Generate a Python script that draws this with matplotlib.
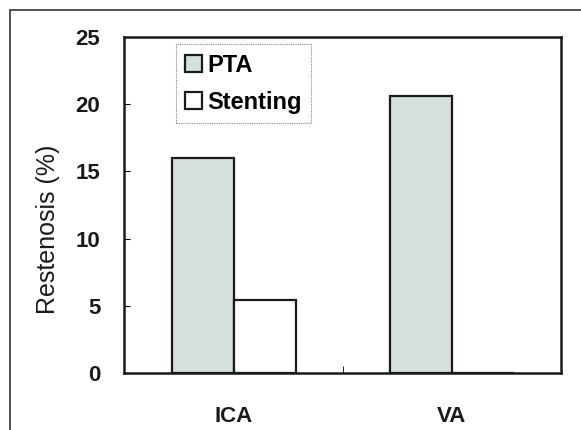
import matplotlib
matplotlib.use("Agg")
import matplotlib.pyplot as plt
import numpy as np
from matplotlib.patches import Rectangle

categories = ["ICA", "VA"]
pta = [16.0, 20.6]
stenting = [5.4, 0.0]
yticks = [0, 5, 10, 15, 20, 25]

plt.rcParams["font.family"] = ["Liberation Sans", "DejaVu Sans"]

fig = plt.figure(figsize=(5.81, 4.30), dpi=100)
W, H = 581, 430
ax = fig.add_axes([124 / W, 1 - 373 / H, (561 - 124) / W, (373 - 37) / H])

x = np.arange(len(categories))
w = 0.285
ax.bar(x - w / 2, pta, w, color="#d3e0dc", edgecolor="#1a1a1a", linewidth=1.6, label="PTA")
ax.bar(x + w / 2, stenting, w, color="white", edgecolor="#1a1a1a", linewidth=1.6, label="Stenting")

ax.set_xlim(-0.505, 1.5)
ax.set_ylim(0, 25)
ax.set_yticks(yticks)
ax.set_yticklabels([str(t) for t in yticks], fontsize=16, fontweight="bold", color="#1a1a1a")
ax.set_xticks(x)
ax.set_xticklabels(categories, fontsize=16, fontweight="bold", color="#1a1a1a")
ax.tick_params(axis="x", length=0, pad=24)
ax.tick_params(axis="y", direction="in", length=4, width=0.8, pad=17)
ax.set_xticks([0.5], minor=True)
ax.tick_params(axis="x", which="minor", direction="in", length=5, width=0.6)
for s in ax.spines.values():
    s.set_linewidth(1.8)
    s.set_color("#1a1a1a")
ax.set_ylabel("Restenosis (%)", fontsize=18, color="#1a1a1a")
ax.yaxis.set_label_coords(-0.147, 0.429)

leg = ax.legend(loc="upper left", bbox_to_anchor=(0.119, 0.979), borderaxespad=0, frameon=True,
                fancybox=False, prop={"size": 17, "weight": "bold"},
                handlelength=0.72, handleheight=0.72, handletextpad=0.2, labelspacing=0.6,
                borderpad=0.4)
leg.get_frame().set_edgecolor("#666666")
leg.get_frame().set_linewidth(0.8)
leg.get_frame().set_linestyle((0, (1, 1)))

fig.patches.append(Rectangle((10 / W, -0.1), 1.2, 1 - 10 / H + 0.1, transform=fig.transFigure,
                             fill=False, edgecolor="#333333", linewidth=1.2))

fig.savefig("out.png", dpi=100)
